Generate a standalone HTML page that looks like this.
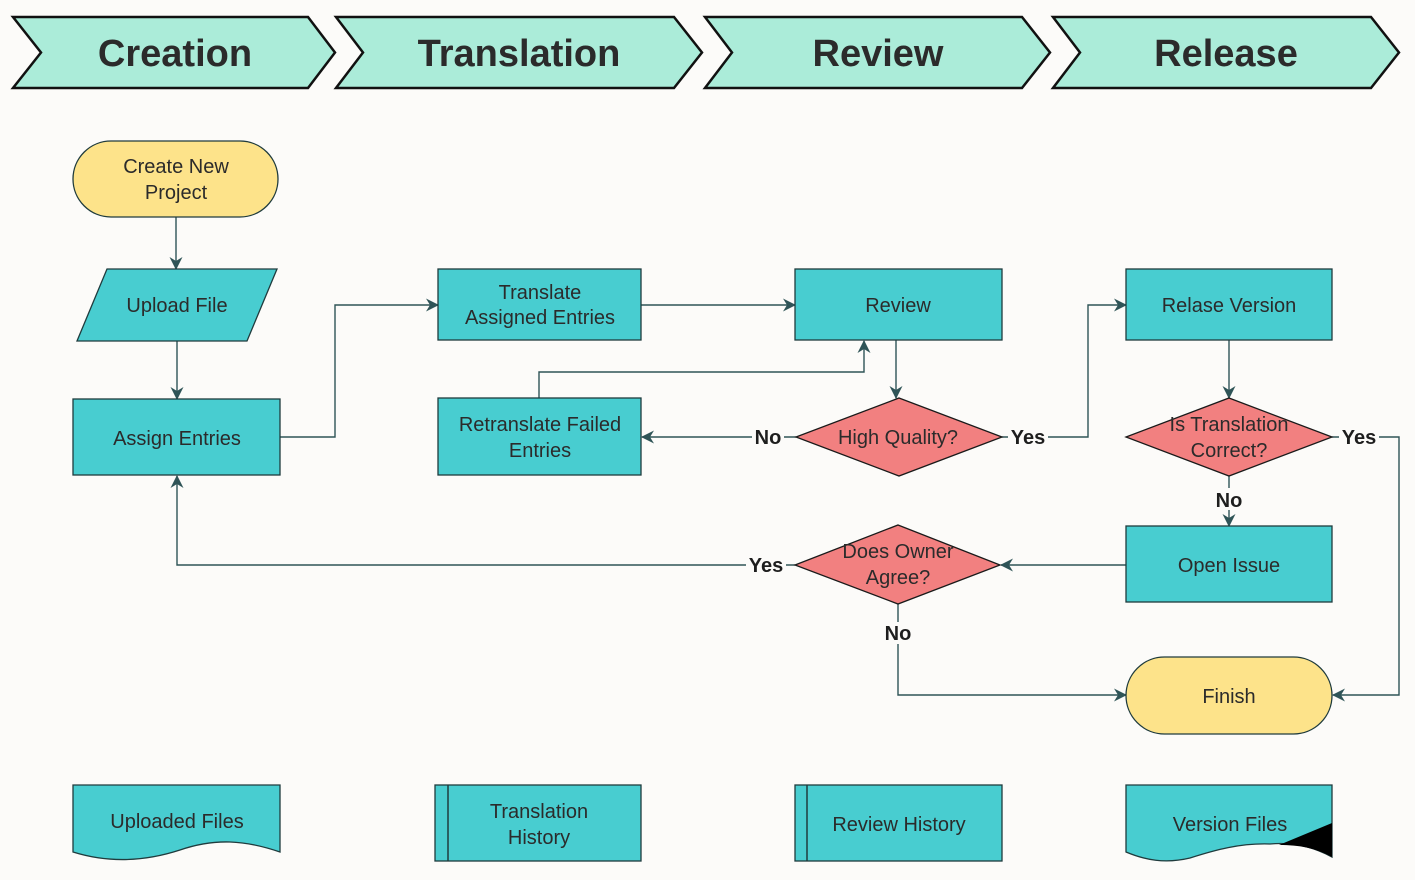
<!DOCTYPE html>
<html><head><meta charset="utf-8"><style>
html,body{margin:0;padding:0;background:#fcfbf9;}
svg{display:block;font-family:"Liberation Sans",Arial,sans-serif;}
.n{fill:#48cdd0;stroke:#1f3b3d;stroke-width:1.3;}
.d{fill:#f28080;stroke:#1a1a1a;stroke-width:1.3;}
.y{fill:#fde38a;stroke:#1f3b3d;stroke-width:1.3;}
.c{fill:#abecd9;stroke:#111;stroke-width:2.5;}
.t{font-size:20px;fill:#2b2b2b;text-anchor:middle;}
.h{font-size:38px;font-weight:bold;fill:#2b2b2b;text-anchor:middle;}
.l{fill:none;stroke:#2f5457;stroke-width:1.4;}
.lb{font-size:20px;font-weight:bold;fill:#1e1e1e;text-anchor:middle;}
.bg{fill:#fcfbf9;}
</style></head><body>
<svg width="1415" height="880" viewBox="0 0 1415 880">
<defs><marker id="a" markerWidth="13" markerHeight="13" refX="12" refY="6.5" orient="auto" markerUnits="userSpaceOnUse"><path d="M0,0 L13,6.5 L0,13 L4,6.5 Z" fill="#2f5457"/></marker></defs>
<rect width="1415" height="880" fill="#fcfbf9"/>
<polygon class="c" points="13,17 308,17 335,52.5 308,88 13,88 41,52.5"/>
<polygon class="c" points="336,17 674,17 702,52.5 674,88 336,88 363,52.5"/>
<polygon class="c" points="705,17 1022,17 1050,52.5 1022,88 705,88 732,52.5"/>
<polygon class="c" points="1053,17 1371,17 1399,52.5 1371,88 1053,88 1080,52.5"/>
<text class="h" x="175" y="66">Creation</text>
<text class="h" x="519" y="66">Translation</text>
<text class="h" x="878" y="66">Review</text>
<text class="h" x="1226" y="66">Release</text>
<path class="l" d="M176,217 V269" marker-end="url(#a)"/>
<path class="l" d="M177,341 V399" marker-end="url(#a)"/>
<path class="l" d="M280,437 H335 V305 H438" marker-end="url(#a)"/>
<path class="l" d="M641,305 H795" marker-end="url(#a)"/>
<path class="l" d="M539,398 V372 H864 V341" marker-end="url(#a)"/>
<path class="l" d="M896,340 V398" marker-end="url(#a)"/>
<path class="l" d="M796,437 H642" marker-end="url(#a)"/>
<path class="l" d="M1002,437 H1088 V305 H1126" marker-end="url(#a)"/>
<path class="l" d="M1229,340 V398" marker-end="url(#a)"/>
<path class="l" d="M1229,475 V526" marker-end="url(#a)"/>
<path class="l" d="M1332,437 H1399 V695 H1333" marker-end="url(#a)"/>
<path class="l" d="M1126,565 H1001" marker-end="url(#a)"/>
<path class="l" d="M795,565 H177 V476" marker-end="url(#a)"/>
<path class="l" d="M898,604 V695 H1126" marker-end="url(#a)"/>
<rect class="y" x="73" y="141" width="205" height="76" rx="38"/>
<text class="t" x="176" y="173">Create New</text><text class="t" x="176" y="199">Project</text>
<polygon class="n" points="107,269 277,269 247,341 77,341"/>
<text class="t" x="177" y="312">Upload File</text>
<rect class="n" x="73" y="399" width="207" height="76"/>
<text class="t" x="177" y="445">Assign Entries</text>
<rect class="n" x="438" y="269" width="203" height="71"/>
<text class="t" x="540" y="299">Translate</text><text class="t" x="540" y="324">Assigned Entries</text>
<rect class="n" x="438" y="398" width="203" height="77"/>
<text class="t" x="540" y="431">Retranslate Failed</text><text class="t" x="540" y="457">Entries</text>
<rect class="n" x="795" y="269" width="207" height="71"/>
<text class="t" x="898" y="312">Review</text>
<polygon class="d" points="899,398 1002,437 899,476 796,437"/>
<text class="t" x="898" y="444">High Quality?</text>
<rect class="n" x="1126" y="269" width="206" height="71"/>
<text class="t" x="1229" y="312">Relase Version</text>
<polygon class="d" points="1229,398 1332,437 1229,476 1126,437"/>
<text class="t" x="1229" y="431">Is Translation</text><text class="t" x="1229" y="457">Correct?</text>
<rect class="n" x="1126" y="526" width="206" height="76"/>
<text class="t" x="1229" y="572">Open Issue</text>
<polygon class="d" points="898,525 1000,565 898,604 795,565"/>
<text class="t" x="898" y="558">Does Owner</text><text class="t" x="898" y="584">Agree?</text>
<rect class="y" x="1126" y="657" width="206" height="77" rx="38.5"/>
<text class="t" x="1229" y="703">Finish</text>
<rect class="bg" x="752" y="426" width="32" height="22"/><text class="lb" x="768" y="444">No</text>
<rect class="bg" x="1008" y="426" width="40" height="22"/><text class="lb" x="1028" y="444">Yes</text>
<rect class="bg" x="1339" y="426" width="40" height="22"/><text class="lb" x="1359" y="444">Yes</text>
<rect class="bg" x="1213" y="488" width="32" height="22"/><text class="lb" x="1229" y="507">No</text>
<rect class="bg" x="746" y="554" width="40" height="22"/><text class="lb" x="766" y="572">Yes</text>
<rect class="bg" x="882" y="622" width="32" height="22"/><text class="lb" x="898" y="640">No</text>
<path class="n" d="M73,785 H280 V852 C245,840 215,838 180,850 C140,863 105,862 73,852 Z"/>
<text class="t" x="177" y="828">Uploaded Files</text>
<rect class="n" x="435" y="785" width="206" height="76"/><line x1="448" y1="785" x2="448" y2="861" stroke="#1f3b3d" stroke-width="1.5"/>
<text class="t" x="539" y="818">Translation</text><text class="t" x="539" y="844">History</text>
<rect class="n" x="795" y="785" width="207" height="76"/><line x1="807" y1="785" x2="807" y2="861" stroke="#1f3b3d" stroke-width="1.5"/>
<text class="t" x="899" y="831">Review History</text>
<path class="n" d="M1126,785 H1332 V857 C1310,845 1290,842 1270,844 C1240,843 1215,850 1190,858 C1165,864 1145,860 1126,852 Z"/>
<path d="M1279,845 L1332,823 L1332,857 C1315,848 1300,845 1279,845 Z" fill="#000"/>
<text class="t" x="1230" y="831">Version Files</text>
</svg>
</body></html>
